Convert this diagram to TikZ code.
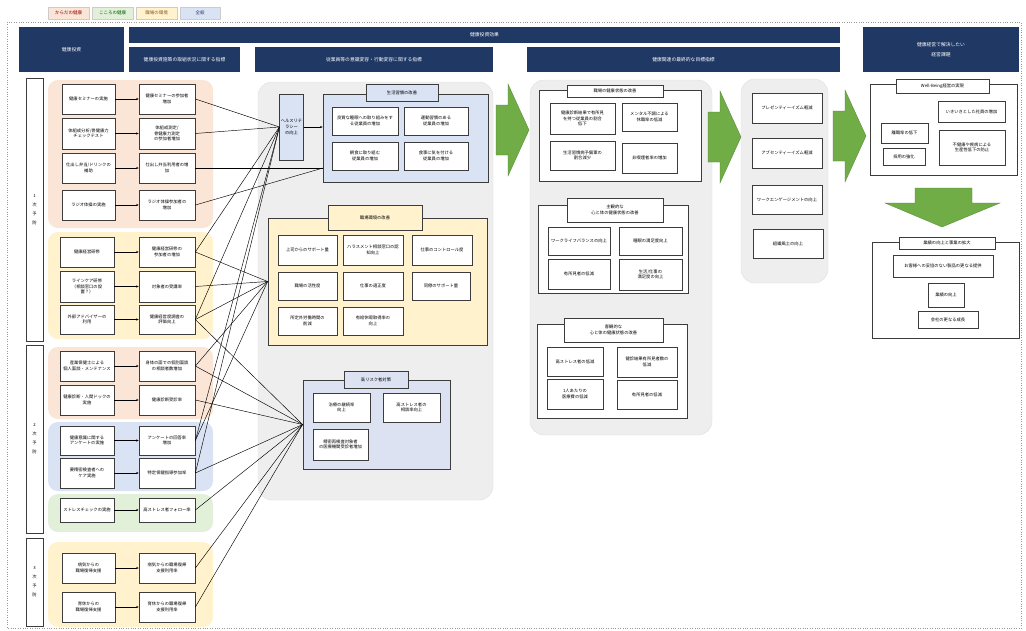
\documentclass[tikz,border=0pt]{standalone}
\usepackage{fontspec}
\setmainfont{Noto Sans CJK JP}
\usetikzlibrary{arrows.meta}
\definecolor{navy}{RGB}{31,56,100}
\definecolor{salmon}{RGB}{251,229,214}
\definecolor{lyellow}{RGB}{255,242,204}
\definecolor{lblue}{RGB}{218,227,243}
\definecolor{lgreen}{RGB}{226,240,217}
\definecolor{lgray}{RGB}{238,238,238}
\definecolor{lav}{RGB}{221,226,242}
\definecolor{garrow}{RGB}{112,173,71}
\definecolor{garrowd}{RGB}{84,130,53}
\definecolor{bord}{RGB}{60,60,60}
\newcommand\mybx[6][box]{\node[#1, minimum width={(#4-#2)*1pt}, minimum height={(#5-#3)*1pt}] (#6) at ({(#2+#4)/2},{(#3+#5)/2})}
\newcommand\greenarrow[2]{\fill[garrow, draw=garrowd, line width=0.3pt] (#1,#2-25) -- (#1+12,#2-25) -- (#1+12,#2-46) -- (#1+33,#2) -- (#1+12,#2+46) -- (#1+12,#2+25) -- (#1,#2+25) -- cycle;}
\tikzset{
 base/.style={align=center, inner sep=1pt, font=\fontsize{4.3}{5.6}\selectfont},
 box/.style={base, draw=bord, fill=white, line width=0.7pt},
 grp/.style={base, draw=bord, line width=0.8pt},
 cgrp/.style={base, rounded corners=10pt},
 graybg/.style={base, rounded corners=14pt, fill=lgray, draw=black!12},
 hdr/.style={base, fill=navy, text=white, font=\fontsize{4.8}{8}\selectfont},
 lgd/.style={base, draw=black!20, font=\fontsize{4.5}{5.6}\selectfont},
 lab/.style={box, font=\fontsize{4.3}{9}\selectfont},
 conn/.style={line width=0.45pt, black},
 harr/.style={line width=0.6pt, black, -{Stealth[length=2.5pt,width=2.2pt]}}
}
\begin{document}
\begin{tikzpicture}[x=1pt,y=-1pt]
\useasboundingbox (0,0) rectangle (1026,630);
\fill[white] (0,0) rectangle (1026,630);
% legend
\mybx[lgd, fill=salmon, text=red!55!black]{48}{7}{89}{19}{lg1} {からだの健康};
\mybx[lgd, fill=lgreen, text=green!35!black]{92}{7}{133}{19}{lg2} {こころの健康};
\mybx[lgd, fill=lyellow, text=brown!70!black]{136}{7}{177}{19}{lg3} {職場の環境};
\mybx[lgd, fill=lblue, text=navy]{180}{7}{220}{19}{lg4} {全般};
\draw[dotted, black!40] (7,22) rectangle (1021,628);
% headers
\mybx[hdr]{19}{27}{124}{72}{h1} {健康投資};
\mybx[hdr]{129}{27}{840}{43}{h2} {健康投資効果};
\mybx[hdr]{129}{47}{240}{72}{h3} {健康投資施策の取組状況に関する指標};
\mybx[hdr]{255}{47}{493}{72}{h4} {従業員等の意識変容・行動変容に関する指標};
\mybx[hdr]{527}{47}{840}{72}{h5} {健康関連の最終的な目標指標};
\mybx[hdr]{863}{27}{1019}{72}{h6} {健康経営で解決したい\\[2pt]経営課題};
% gray backgrounds
\mybx[graybg]{258}{82}{493}{500}{midbg} {};
\mybx[graybg]{530}{80}{712}{435}{resbg} {};
\mybx[graybg]{741}{79}{828}{283}{slgbg} {};
% left colour groups
\mybx[cgrp, fill=salmon]{48}{80}{213}{228}{g1} {};
\mybx[cgrp, fill=lyellow]{48}{232}{213}{339}{g2} {};
\mybx[cgrp, fill=salmon]{48}{347}{213}{419}{g3} {};
\mybx[cgrp, fill=lblue]{48}{422}{213}{491}{g4} {};
\mybx[cgrp, fill=lgreen]{48}{494}{213}{532}{g5} {};
\mybx[cgrp, fill=lyellow]{48}{542}{213}{627}{g6} {};
% prevention labels
\mybx[lab]{26}{78}{43}{341}{p1} {1\\次\\予\\防};
\mybx[lab]{26}{345}{43}{533}{p2} {2\\次\\予\\防};
\mybx[lab]{26}{538}{43}{626}{p3} {3\\次\\予\\防};
% left boxes
\mybx{62}{84}{115}{114}{L1} {健康セミナーの実施};
\mybx{139}{84}{195}{114}{R1} {健康セミナーの参加者\\増加};
\mybx{62}{118}{115}{149}{L2} {体組成分析/骨健康力\\チェックテスト};
\mybx{139}{118}{195}{149}{R2} {体組成測定/\\骨健康力測定\\の参加者増加};
\mybx{62}{153}{115}{183}{L3} {仕出し弁当/ドリンクの\\補助};
\mybx{139}{153}{195}{183}{R3} {仕出し弁当利用者の増\\加};
\mybx{62}{190}{115}{220}{L4} {ラジオ体操の実施};
\mybx{139}{190}{195}{220}{R4} {ラジオ体操参加者の\\増加};
\mybx{60}{237}{114}{267}{L5} {健康経営研修};
\mybx{139}{237}{195}{267}{R5} {健康経営研修の\\参加者の増加};
\mybx{60}{271}{114}{302}{L6} {ラインケア研修\\（相談窓口の設\\置？）};
\mybx{139}{271}{195}{302}{R6} {対象者の受講率};
\mybx{60}{305}{114}{334}{L7} {外部アドバイザーの\\利用};
\mybx{139}{305}{195}{334}{R7} {健康経営度調査の\\評価向上};
\mybx{60}{351}{114}{381}{L8} {産業保健士による\\個人面談・メンテナンス};
\mybx{139}{351}{195}{381}{R8} {身体の面での個別面談\\の相談者数増加};
\mybx{60}{385}{114}{415}{L9} {健康診断・人間ドックの\\実施};
\mybx{139}{385}{195}{415}{R9} {健康診断受診率};
\mybx{60}{426}{114}{455}{L10} {健康意識に関する\\アンケートの実施};
\mybx{139}{426}{195}{455}{R10} {アンケートの回答率\\増加};
\mybx{60}{458}{114}{488}{L11} {要精密検査者への\\ケア実施};
\mybx{139}{458}{195}{488}{R11} {特定保健指導参加率};
\mybx{60}{498}{114}{522}{L12} {ストレスチェックの実施};
\mybx{139}{498}{195}{522}{R12} {高ストレス者フォロー率};
\mybx{62}{553}{115}{583}{L13} {病気からの\\職場復帰支援};
\mybx{139}{553}{195}{583}{R13} {病気からの職場復帰\\支援利用率};
\mybx{62}{592}{115}{622}{L14} {育休からの\\職場復帰支援};
\mybx{139}{592}{195}{622}{R14} {育休からの職場復帰\\支援利用率};
\foreach \i in {1,...,14} {\draw[harr] (L\i.east) -- (R\i.west);}
% middle column
\mybx[box, fill=lblue]{280}{94}{303}{160}{lit} {ヘルスリテ\\ラシー\\の向上};
\mybx[grp, fill=lblue]{323}{94}{488}{182}{sk} {};
\mybx[box, fill=lblue]{366}{84}{438}{101}{skt} {生活習慣の改善};
\mybx{332}{107}{398}{135}{sk1} {良質な睡眠への取り組みをす\\る従業員の増加};
\mybx{404}{107}{468}{135}{sk2} {運動習慣のある\\従業員の増加};
\mybx{332}{142}{398}{170}{sk3} {朝食に取り組む\\従業員の増加};
\mybx{404}{142}{468}{170}{sk4} {食事に気を付ける\\従業員の増加};
\mybx[grp, fill=lyellow]{268}{218}{487}{345}{wp} {};
\mybx[box, fill=lyellow]{328}{205}{422}{230}{wpt} {職場環境の改善};
\mybx{278}{235}{337}{265}{wp1} {上司からのサポート量};
\mybx{343}{235}{403}{265}{wp2} {ハラスメント相談窓口の認\\知向上};
\mybx{412}{235}{472}{265}{wp3} {仕事のコントロール度};
\mybx{278}{272}{337}{300}{wp4} {職場の活性度};
\mybx{343}{272}{403}{300}{wp5} {仕事の適正度};
\mybx{412}{272}{470}{300}{wp6} {同僚のサポート量};
\mybx{278}{307}{337}{335}{wp7} {所定外労働時間の\\削減};
\mybx{343}{307}{403}{335}{wp8} {有給休暇取得率の\\向上};
\mybx[grp, fill=lav]{303}{380}{450}{469}{dz} {};
\mybx[box, fill=lav]{344}{371}{408}{388}{dzt} {高リスク者対策};
\mybx{313}{393}{370}{422}{dz1} {治療の継続率\\向上};
\mybx{383}{393}{440}{422}{dz2} {高ストレス者の\\相談率向上};
\mybx{313}{429}{368}{460}{dz3} {精密再検査対象者\\の医療機関受診者増加};
\coordinate (skin) at (323,168);
\draw[harr] (lit.east) -- (lit.east -| sk.west);
% connectors
\draw[conn] (R1.east) -- (lit.west);
\draw[conn] (R2.east) -- (lit.west);
\draw[conn] (R3.east) -- (skin);
\draw[conn] (R4.east) -- (skin);
\draw[conn] (R5.east) -- (lit.west);
\draw[conn] (R5.east) -- (wp.west);
\draw[conn] (R6.east) -- (wp.west);
\draw[conn] (R7.east) -- (lit.west);
\draw[conn] (R7.east) -- (wp.west);
\draw[conn] (R7.east) -- (dz.west);
\draw[conn] (R8.east) -- (wp.west);
\draw[conn] (R8.east) -- (dz.west);
\draw[conn] (R9.east) -- (dz.west);
\draw[conn] (R10.east) -- (lit.west);
\draw[conn] (R10.east) -- (wp.west);
\draw[conn] (R11.east) -- (lit.west);
\draw[conn] (R11.east) -- (dz.west);
\draw[conn] (R12.east) -- (dz.west);
\draw[conn] (R13.east) -- (dz.west);
\draw[conn] (R14.east) -- (dz.west);
% results column
\mybx[grp, fill=white]{539}{90}{701}{181}{ra} {};
\mybx{567}{85}{663}{97}{rat} {職場の健康状態の改善};
\mybx{550}{103}{615}{134}{ra1} {健康診断結果で有所見\\を持つ従業員の割合\\低下};
\mybx{622}{103}{677}{131}{ra2} {メンタル不調による\\休職率の低減};
\mybx{550}{141}{615}{170}{ra3} {生活習慣病予備軍の\\割合減少};
\mybx{622}{143}{677}{173}{ra4} {非喫煙者率の増加};
\mybx[grp, fill=white]{538}{205}{688}{293}{rb} {};
\mybx{567}{198}{663}{222}{rbt} {主観的な\\心と体の健康状態の改善};
\mybx{548}{227}{610}{255}{rb1} {ワークライフバランスの向上};
\mybx{619}{227}{682}{255}{rb2} {睡眠の満足度向上};
\mybx{548}{259}{610}{289}{rb3} {有所見者の低減};
\mybx{619}{259}{682}{290}{rb4} {生活/仕事の\\満足度の向上};
\mybx[grp, fill=white]{537}{324}{687}{418}{rc} {};
\mybx{564}{318}{663}{342}{rct} {客観的な\\心と体の健康状態の改善};
\mybx{547}{347}{603}{376}{rc1} {高ストレス者の低減};
\mybx{617}{347}{677}{377}{rc2} {健診結果有所見者数の\\低減};
\mybx{547}{379}{603}{409}{rc3} {1人あたりの\\医療費の低減};
\mybx{617}{380}{677}{409}{rc4} {有所見者の低減};
% slogans
\mybx{752}{93}{822}{123}{s1} {プレゼンティーイズム軽減};
\mybx{752}{138}{822}{168}{s2} {アブセンティーイズム軽減};
\mybx{752}{185}{822}{214}{s3} {ワークエンゲージメントの向上};
\mybx{753}{229}{823}{258}{s4} {組織風土の向上};
% right column
\mybx[grp, fill=white]{870}{84}{1017}{175}{wb} {};
\mybx{896}{79}{989}{93}{wbt} {Well-Being経営の実現};
\mybx{938}{101}{1005}{122}{wb1} {いきいきとした社員の増加};
\mybx{881}{123}{928}{143}{wb2} {離職率の低下};
\mybx{883}{148}{925}{165}{wb3} {採用の強化};
\mybx{939}{130}{1005}{165}{wb4} {不健康や疾病による\\生産性低下の防止};
\mybx[grp, fill=white]{872}{242}{1019}{338}{bz} {};
\mybx{899}{237}{995}{249}{bzt} {業績の向上と事業の拡大};
\mybx{893}{255}{993}{277}{bz1} {お客様への妥協のない製品の更なる提供};
\mybx{928}{283}{964}{307}{bz2} {業績の向上};
\mybx{918}{311}{978}{328}{bz3} {会社の更なる成長};
% green arrows
\greenarrow{496}{130}
\greenarrow{708}{137}
\greenarrow{833}{136}
\fill[garrow, draw=garrowd, line width=0.3pt] (915,188) -- (972,188) -- (972,203) -- (1000,203) -- (942,227) -- (885,203) -- (915,203) -- cycle;
\end{tikzpicture}
\end{document}
